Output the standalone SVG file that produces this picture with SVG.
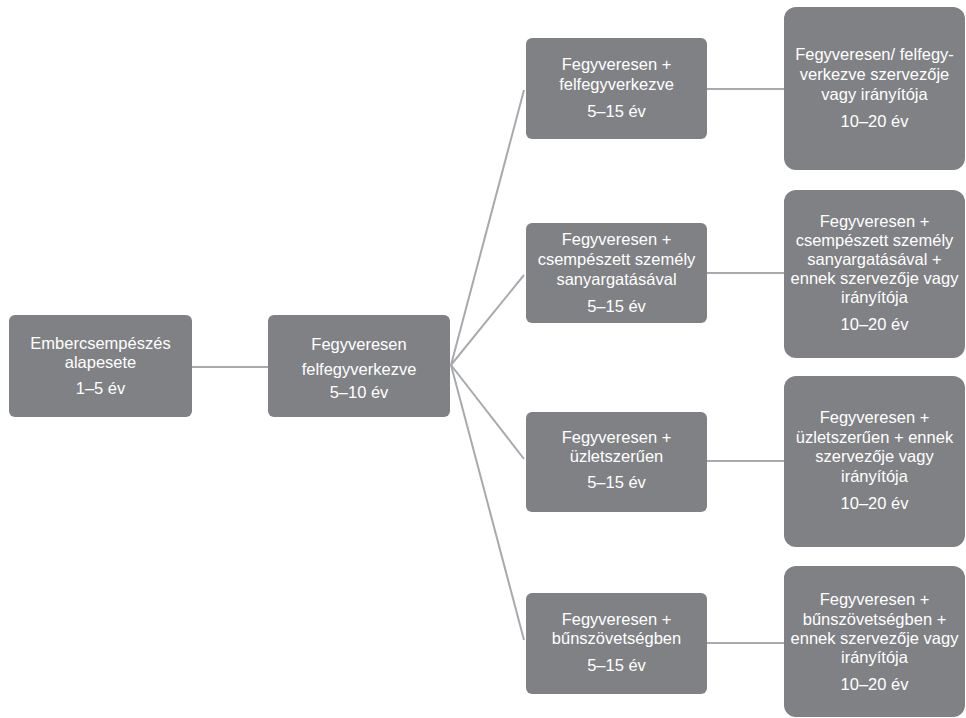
<svg xmlns="http://www.w3.org/2000/svg" width="966" height="718" viewBox="0 0 966 718">
<style>
.box{fill:#808184}
.t{font-family:"Liberation Sans",Arial,sans-serif;font-size:16.5px;fill:#ffffff;text-anchor:middle}
.c{stroke:#a7a9ac;stroke-width:2;fill:none}
</style>
<rect width="966" height="718" fill="#ffffff"/>
<g id="connectors">
<line class="c" x1="192" y1="367" x2="268" y2="367"/>
<line class="c" x1="451" y1="365" x2="524" y2="90"/>
<line class="c" x1="451" y1="365" x2="524" y2="275"/>
<line class="c" x1="451" y1="365" x2="524" y2="459"/>
<line class="c" x1="451" y1="365" x2="524" y2="640"/>
<line class="c" x1="707" y1="89" x2="784" y2="89"/>
<line class="c" x1="707" y1="273" x2="784" y2="273"/>
<line class="c" x1="707" y1="461" x2="784" y2="461"/>
<line class="c" x1="707" y1="643" x2="784" y2="643"/>
</g>
<g id="n1">
<rect class="box" x="9" y="315" width="183" height="102" rx="6"/>
<text class="t" x="100.5" y="349">Embercsempészés</text>
<text class="t" x="100.5" y="368">alapesete</text>
<text class="t" x="100.5" y="394">1–5 év</text>
</g>
<g id="n2">
<rect class="box" x="268" y="315" width="182" height="102" rx="6"/>
<text class="t" x="359" y="350">Fegyveresen</text>
<text class="t" x="359" y="375">felfegyverkezve</text>
<text class="t" x="359" y="398">5–10 év</text>
</g>
<g id="n3a">
<rect class="box" x="526" y="38" width="181" height="101" rx="6"/>
<text class="t" x="616.5" y="70">Fegyveresen +</text>
<text class="t" x="616.5" y="90">felfegyverkezve</text>
<text class="t" x="616.5" y="117">5–15 év</text>
</g>
<g id="n3b">
<rect class="box" x="526" y="223" width="181" height="100" rx="6"/>
<text class="t" x="616.5" y="245">Fegyveresen +</text>
<text class="t" x="616.5" y="265">csempészett személy</text>
<text class="t" x="616.5" y="285">sanyargatásával</text>
<text class="t" x="616.5" y="312">5–15 év</text>
</g>
<g id="n3c">
<rect class="box" x="526" y="412" width="181" height="100" rx="6"/>
<text class="t" x="616.5" y="443">Fegyveresen +</text>
<text class="t" x="616.5" y="462">üzletszerűen</text>
<text class="t" x="616.5" y="488">5–15 év</text>
</g>
<g id="n3d">
<rect class="box" x="526" y="593" width="181" height="101" rx="6"/>
<text class="t" x="616.5" y="625">Fegyveresen +</text>
<text class="t" x="616.5" y="644">bűnszövetségben</text>
<text class="t" x="616.5" y="671">5–15 év</text>
</g>
<g id="n4a">
<rect class="box" x="784" y="7" width="181" height="163" rx="12"/>
<text class="t" x="874.5" y="60">Fegyveresen/ felfegy-</text>
<text class="t" x="874.5" y="80">verkezve szervezője</text>
<text class="t" x="874.5" y="100">vagy irányítója</text>
<text class="t" x="874.5" y="127">10–20 év</text>
</g>
<g id="n4b">
<rect class="box" x="784" y="190" width="181" height="168" rx="12"/>
<text class="t" x="874.5" y="227">Fegyveresen +</text>
<text class="t" x="874.5" y="246">csempészett személy</text>
<text class="t" x="874.5" y="265">sanyargatásával +</text>
<text class="t" x="874.5" y="284">ennek szervezője vagy</text>
<text class="t" x="874.5" y="303">irányítója</text>
<text class="t" x="874.5" y="330">10–20 év</text>
</g>
<g id="n4c">
<rect class="box" x="784" y="376" width="181" height="171" rx="12"/>
<text class="t" x="874.5" y="423">Fegyveresen +</text>
<text class="t" x="874.5" y="443">üzletszerűen + ennek</text>
<text class="t" x="874.5" y="462">szervezője vagy</text>
<text class="t" x="874.5" y="482">irányítója</text>
<text class="t" x="874.5" y="509">10–20 év</text>
</g>
<g id="n4d">
<rect class="box" x="784" y="566" width="181" height="151" rx="12"/>
<text class="t" x="874.5" y="605">Fegyveresen +</text>
<text class="t" x="874.5" y="625">bűnszövetségben +</text>
<text class="t" x="874.5" y="644">ennek szervezője vagy</text>
<text class="t" x="874.5" y="663">irányítója</text>
<text class="t" x="874.5" y="690">10–20 év</text>
</g>
</svg>
